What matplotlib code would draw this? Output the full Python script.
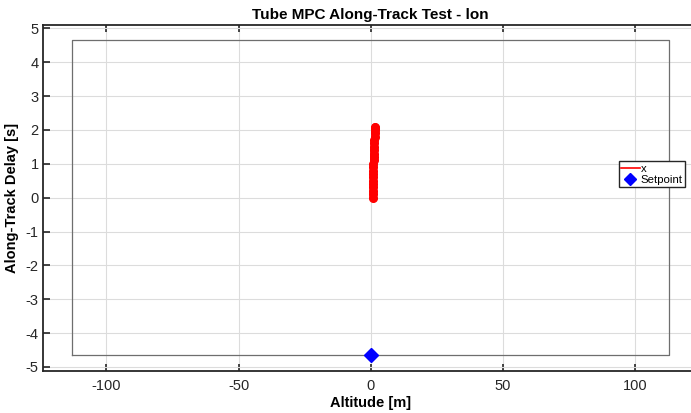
import matplotlib
matplotlib.use("Agg")
import matplotlib.pyplot as plt
from matplotlib.lines import Line2D

plt.rcParams['font.family'] = ['Liberation Sans', 'DejaVu Sans']
plt.rcParams['axes.unicode_minus'] = False

# Trajectory samples (altitude [m], along-track delay [s])
alt_m = [0.80, 0.82, 0.85, 0.88, 0.90, 0.92, 0.95, 0.98, 1.00, 1.02,
         1.05, 1.08, 1.10, 1.12, 1.15, 1.20, 1.30, 1.40, 1.50, 1.55,
         1.60, 1.65, 1.70]
delay_s = [0.00, 0.10, 0.20, 0.30, 0.40, 0.50, 0.60, 0.70, 0.80, 0.90,
           1.00, 1.10, 1.20, 1.30, 1.40, 1.50, 1.60, 1.70, 1.80, 1.90,
           2.00, 2.05, 2.10]

setpoint_alt = [0.0]
setpoint_delay = [-4.66]

# Tube bounds
tube_alt = [-113, 113]
tube_delay = [-4.66, 4.66]

x_ticks = [-100, -50, 0, 50, 100]
y_ticks = [-5, -4, -3, -2, -1, 0, 1, 2, 3, 4, 5]

fig = plt.figure(figsize=(6.91, 4.13), dpi=100)
ax = fig.add_axes([0.0622, 0.1017, 0.9485, 0.8378])

ax.set_xlim(-124, 124)
ax.set_ylim(-5.12, 5.1)

ax.grid(True, color='#dcdcdc', linewidth=0.8)
ax.set_axisbelow(True)

# tube rectangle
ax.plot([tube_alt[0], tube_alt[1], tube_alt[1], tube_alt[0], tube_alt[0]],
        [tube_delay[0], tube_delay[0], tube_delay[1], tube_delay[1], tube_delay[0]],
        color='#6e6e6e', linewidth=0.9, zorder=2)

ax.plot(alt_m, delay_s, color='red', linewidth=5, marker='o', markersize=5.5,
        solid_capstyle='round', zorder=3)
ax.plot(setpoint_alt, setpoint_delay, linestyle='none', marker='D',
        color='blue', markersize=7, zorder=4)

ax.set_xticks(x_ticks)
ax.set_yticks(y_ticks)
ax.tick_params(direction='in', length=5, width=1.2, colors='#262626',
               labelsize=10.5, top=True, right=True)
ax.tick_params(axis='y', pad=3)
ax.tick_params(axis='x', pad=6)
for s in ax.spines.values():
    s.set_color('#262626')
    s.set_linewidth(1.3)

ax.set_xlabel('Altitude [m]', fontsize=10.5, fontweight='bold', labelpad=2)
ax.set_ylabel('Along-Track Delay [s]', fontsize=10.5, fontweight='bold')
ax.yaxis.set_label_coords(-0.036, 0.5)
ax.set_title('Tube MPC Along-Track Test - lon', fontsize=11, fontweight='bold', pad=4)

handles = [Line2D([0], [0], color='red', linewidth=1.2),
           Line2D([0], [0], linestyle='none', marker='D', color='blue', markersize=6.5)]
leg = ax.legend(handles, ['x', 'Setpoint'], loc='upper left',
                bbox_to_anchor=(0.879, 0.606), fontsize=8.2, frameon=True,
                fancybox=False, edgecolor='#262626', framealpha=1,
                borderpad=0.2, handlelength=1.6, handletextpad=0.1,
                labelspacing=0.1, borderaxespad=0)
leg.get_frame().set_linewidth(1.0)

fig.savefig('out.png', dpi=100)
